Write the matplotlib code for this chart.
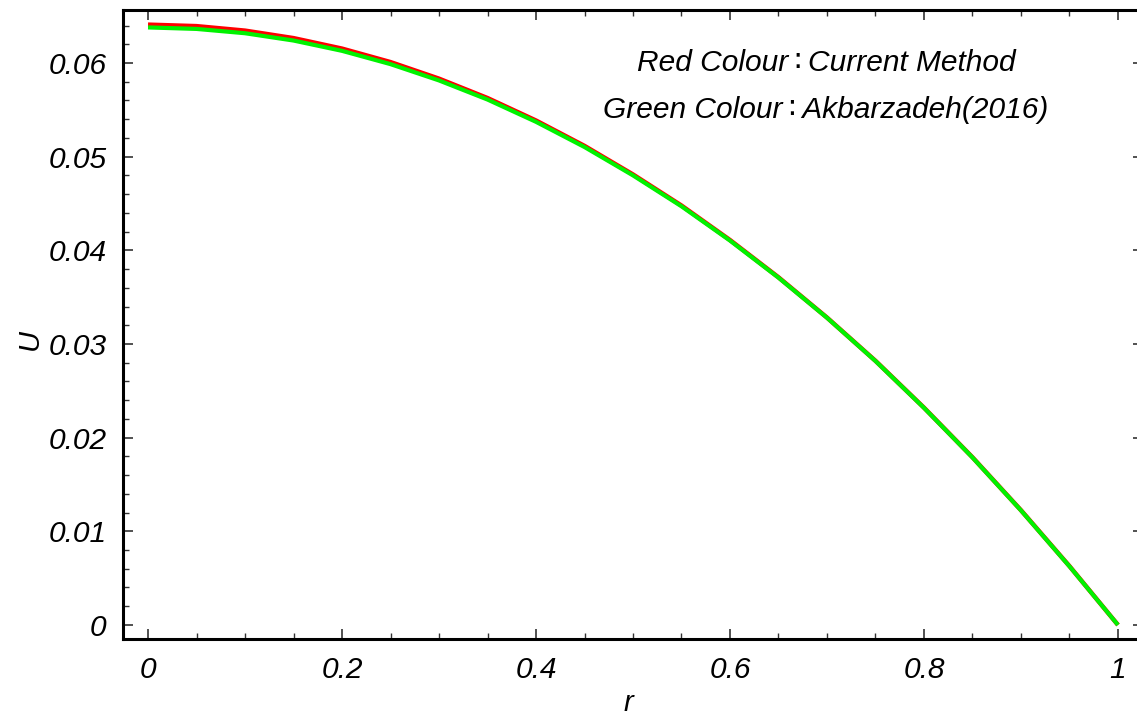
import matplotlib
matplotlib.use("Agg")
import matplotlib.pyplot as plt
from matplotlib.ticker import MultipleLocator, FixedLocator

r_values = [0.0, 0.05, 0.1, 0.15, 0.2, 0.25, 0.3, 0.35, 0.4, 0.45, 0.5,
            0.55, 0.6, 0.65, 0.7, 0.75, 0.8, 0.85, 0.9, 0.95, 1.0]
u_current = [0.06410, 0.06394, 0.06346, 0.06266, 0.06154, 0.06010, 0.05833,
             0.05626, 0.05386, 0.05115, 0.04810, 0.04478, 0.04110, 0.03712,
             0.03282, 0.02820, 0.02320, 0.01790, 0.01225, 0.00628, 0.0]
u_akbar = [0.06380, 0.06364, 0.06318, 0.06240, 0.06130, 0.05988, 0.05814,
           0.05610, 0.05372, 0.05103, 0.04800, 0.04470, 0.04104, 0.03708,
           0.03280, 0.02818, 0.02318, 0.01788, 0.01223, 0.00626, 0.0]
x_ticks = [0, 0.2, 0.4, 0.6, 0.8, 1.0]
x_tick_labels = ["0", "0.2", "0.4", "0.6", "0.8", "1"]
y_ticks = [0, 0.01, 0.02, 0.03, 0.04, 0.05, 0.06]
y_tick_labels = ["0", "0.01", "0.02", "0.03", "0.04", "0.05", "0.06"]
legend_lines = ["Red Colour\u2009\u2236\u2009Current Method",
                "Green Colour\u2009\u2236\u2009Akbarzadeh(2016)"]

W, H = 1137, 716
fig = plt.figure(figsize=(W / 100, H / 100), dpi=100)
fams = ["Liberation Sans", "DejaVu Sans"]

left, right, bottom, top = 123, 1143, 639, 10
ax = fig.add_axes([left / W, 1 - bottom / H, (right - left) / W, (bottom - top) / H])

ax.plot(r_values, u_current, color=(1, 0, 0), lw=3.2, solid_capstyle="butt")
ax.plot(r_values, u_akbar, color=(0, 0.95, 0), lw=3.0, solid_capstyle="butt")

ax.set_xlim(-0.0258, 1.0258)
ax.set_ylim(-0.0015, 0.06566)

ax.xaxis.set_major_locator(FixedLocator(x_ticks))
ax.set_xticklabels(x_tick_labels)
ax.xaxis.set_minor_locator(MultipleLocator(0.05))
ax.yaxis.set_major_locator(FixedLocator(y_ticks))
ax.set_yticklabels(y_tick_labels)
ax.yaxis.set_minor_locator(MultipleLocator(0.002))

ax.tick_params(which="both", direction="in", top=True, right=True, color="#333333")
ax.tick_params(which="major", length=7, width=1.2, pad=12, labelsize=21.5)
ax.tick_params(which="minor", length=4.5, width=1.0)
ax.tick_params(axis="y", which="both", right=True)
for lab in ax.get_xticklabels() + ax.get_yticklabels():
    lab.set_fontstyle("italic")
    lab.set_family(fams)

for s in ax.spines.values():
    s.set_linewidth(2.2)
    s.set_color("black")

fig.text(30 / W, 1 - 340 / H, "U", rotation=90, fontsize=21, fontstyle="italic",
         family=fams, ha="center", va="center")
fig.text(628 / W, 1 - 703 / H, "r", fontsize=21, fontstyle="italic",
         family=fams, ha="center", va="center")

fig.text(826 / W, 1 - 63 / H, legend_lines[0], fontsize=21.5, fontstyle="italic",
         family=fams, ha="center", va="center")
fig.text(826 / W, 1 - 110 / H, legend_lines[1], fontsize=21.5, fontstyle="italic",
         family=fams, ha="center", va="center")

fig.savefig("out.png", dpi=100)
